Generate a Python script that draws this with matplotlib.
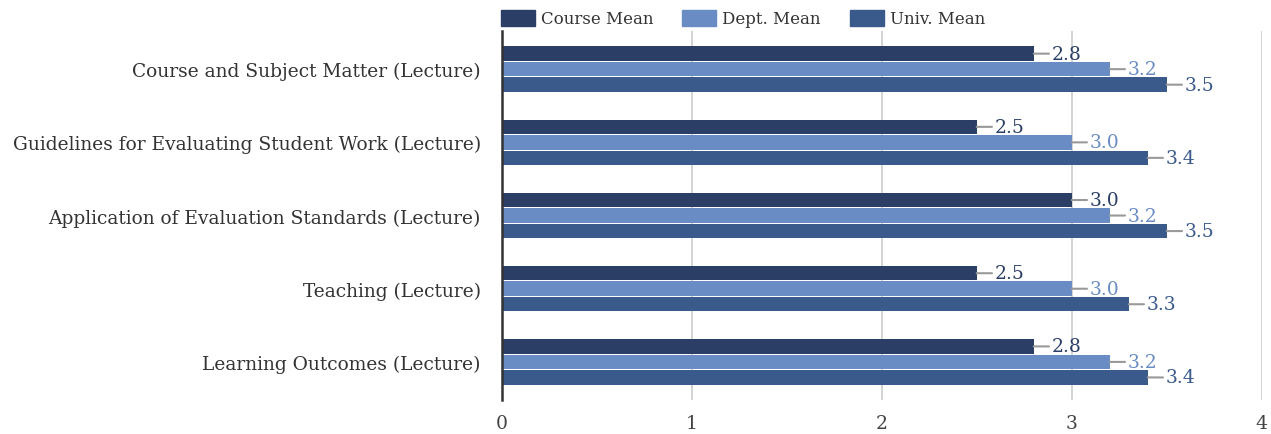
import numpy as np
import matplotlib.pyplot as plt
from matplotlib.patches import Patch

# === Données ===
categories = [
    "Course and Subject Matter (Lecture)",
    "Guidelines for Evaluating Student Work (Lecture)",
    "Application of Evaluation Standards (Lecture)",
    "Teaching (Lecture)",
    "Learning Outcomes (Lecture)",
]
series_names = ["Course Mean", "Dept. Mean", "Univ. Mean"]
course_mean = [2.8, 2.5, 3.0, 2.5, 2.8]
dept_mean = [3.2, 3.0, 3.2, 3.0, 3.2]
univ_mean = [3.5, 3.4, 3.5, 3.3, 3.4]

colors = ["#2b3f66", "#6a8cc4", "#3a5a8c"]

plt.rcParams['font.family'] = ['DejaVu Serif']

fig = plt.figure(figsize=(12.71, 4.35), dpi=100)
ax = fig.add_axes([0.3947, 0.0782, 0.598, 0.848])

y = np.arange(len(categories))
h = 0.198
step = 0.212
for i, vals in enumerate([course_mean, dept_mean, univ_mean]):
    pos = y + (i - 1) * step
    ax.barh(pos, vals, height=h, color=colors[i], zorder=3)
    for p, v in zip(pos, vals):
        ax.annotate(f"{v:.1f}", xy=(v, p), xytext=(13, 0), textcoords="offset points",
                    ha="left", va="center", fontsize=13.5, color=colors[i],
                    arrowprops=dict(arrowstyle="-", color="#999999", lw=1.5,
                                    shrinkA=0, shrinkB=0), zorder=4)

ax.set_xlim(0, 4)
ax.set_ylim(len(categories) - 0.48, -0.52)
ax.set_yticks(y)
ax.set_yticklabels(categories, fontsize=13.4, color="#333333")
ax.set_xticks([0, 1, 2, 3, 4])
ax.set_xticklabels(["0", "1", "2", "3", "4"], fontsize=13.5, color="#444444")
ax.tick_params(axis="y", length=0, pad=15)
ax.tick_params(axis="x", length=0, pad=10)
ax.grid(axis="x", color="#cccccc", lw=1.2, zorder=0)
for s in ["top", "right", "bottom"]:
    ax.spines[s].set_visible(False)
ax.spines["left"].set_color("#333333")
ax.spines["left"].set_linewidth(1.8)
ax.spines["left"].set_zorder(5)

handles = [Patch(color=c, label=n) for c, n in zip(colors, series_names)]
fig.legend(handles=handles, loc="upper left", bbox_to_anchor=(0.382, 1.01), ncol=3,
           frameon=False, fontsize=12, handlelength=2.05, handleheight=1.1,
           handletextpad=0.36, columnspacing=1.74, labelcolor="#333333")

plt.savefig("out.png", dpi=100)
